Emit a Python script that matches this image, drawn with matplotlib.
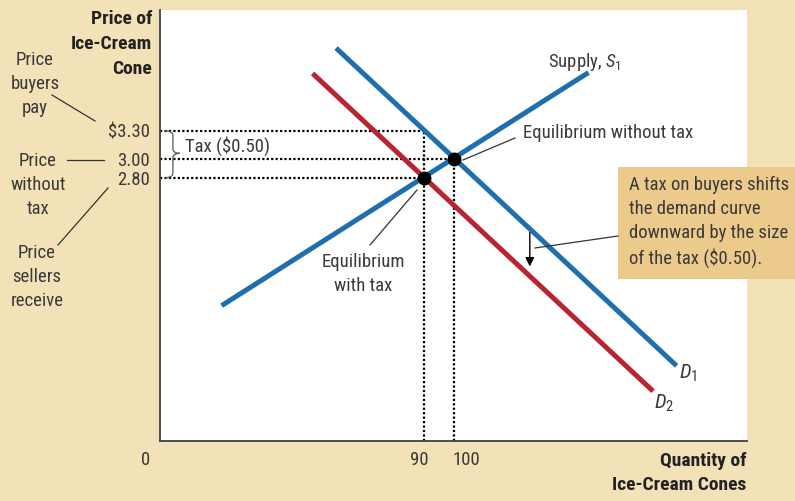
import numpy as np
import matplotlib.pyplot as plt
from matplotlib import font_manager as fm
from matplotlib.patches import Rectangle, PathPatch, FancyArrowPatch
from matplotlib.path import Path
from matplotlib.lines import Line2D

# pick a narrow sans if one is around, otherwise Roboto
installed = fm.fontManager.ttflist
names = {f.name for f in installed}
stretch = 'normal'
if 'Liberation Sans Narrow' in names:
    FONT, SCALE = 'Liberation Sans Narrow', 1.0
elif 'Roboto Condensed' in names:
    FONT, SCALE = 'Roboto Condensed', 1.0
elif any(f.name == 'DejaVu Sans' and 'condensed' in str(f.stretch) for f in installed):
    FONT, SCALE, stretch = 'DejaVu Sans', 0.92, 'condensed'
else:
    FONT, SCALE = 'Roboto', 0.9

plt.rcParams['font.family'] = [FONT, 'DejaVu Sans']
plt.rcParams['font.stretch'] = stretch
plt.rcParams['mathtext.fontset'] = 'custom'
plt.rcParams['mathtext.rm'] = FONT
plt.rcParams['mathtext.it'] = FONT + ':italic'

# curves: endpoints of each straight line (quantity, price)
supply_q = [21, 146]
supply_p = [1.44, 3.92]
d1_q = [60, 176]
d1_p = [4.18, 0.80]
d2_q = [52, 168]
d2_p = [3.91, 0.53]

# equilibria
eq_q = [100, 90]
eq_p = [3.00, 2.80]
price_buyers = 3.30
tax = 0.50

price_ticks = [2.80, 3.00, 3.30]
price_labels = ['2.80', '3.00', '$3.30']

BEIGE = '#f3e1b8'
BOX = '#ecca8c'
BLUE = '#1f6fae'
RED = '#b8242f'
TXT = '#3a3a3a'
FS = 13.5 * SCALE
FSB = 14 * SCALE

W, H = 795, 501
fig = plt.figure(figsize=(W / 100, H / 100), dpi=100, facecolor=BEIGE)


def px(x, y):
    return x / W, 1 - y / H


ax = fig.add_axes([160 / W, 60 / H, 587 / W, 431 / H])
ax.set_facecolor('white')
ax.set_xlim(0, 200)
ax.set_ylim(0, 4.585)
for s in ['top', 'right']:
    ax.spines[s].set_visible(False)
for s in ['left', 'bottom']:
    ax.spines[s].set_color('#404040')
    ax.spines[s].set_linewidth(1.3)

ax.set_xticks([])
ax.set_yticks(price_ticks)
ax.set_yticklabels(price_labels, fontsize=FS, color=TXT)
ax.tick_params(axis='y', length=0, pad=7)

# dotted guide lines
dot = dict(color='black', lw=1.6, ls=(0, (1, 1)), zorder=2)
ax.plot([0, eq_q[1]], [price_buyers, price_buyers], **dot)
ax.plot([0, eq_q[0]], [eq_p[0], eq_p[0]], **dot)
ax.plot([0, eq_q[1]], [eq_p[1], eq_p[1]], **dot)
ax.plot([eq_q[1], eq_q[1]], [0, price_buyers], **dot)
ax.plot([eq_q[0], eq_q[0]], [0, eq_p[0]], **dot)

# supply and demand curves
ax.plot(supply_q, supply_p, color=BLUE, lw=3.6, solid_capstyle='butt', zorder=3)
ax.plot(d1_q, d1_p, color=BLUE, lw=3.6, solid_capstyle='butt', zorder=3)
ax.plot(d2_q, d2_p, color=RED, lw=3.6, solid_capstyle='butt', zorder=3)
ax.plot(eq_q, eq_p, 'o', color='black', ms=9, zorder=5)

# brace for the tax wedge
y_top, y_bot = price_buyers, price_buyers - tax
y_mid = (y_top + y_bot) / 2 + 0.01
x0, x1, x2 = 1.6, 4.4, 6.8
verts = [(x0, y_top), (x1, y_top), (x1, y_top - 0.05),
         (x1, y_mid + 0.05), (x1, y_mid), (x2, y_mid),
         (x1, y_mid), (x1, y_mid - 0.05),
         (x1, y_bot + 0.05), (x1, y_bot), (x0, y_bot)]
codes = [Path.MOVETO, Path.CURVE3, Path.CURVE3,
         Path.LINETO, Path.CURVE3, Path.CURVE3,
         Path.CURVE3, Path.CURVE3,
         Path.LINETO, Path.CURVE3, Path.CURVE3]
ax.add_patch(PathPatch(Path(verts, codes), fc='none', ec='#555555', lw=0.9, zorder=4))
ax.text(8.5, y_mid + 0.08, 'Tax ($0.50)', fontsize=FS, color=TXT, va='center', ha='left')

# shift arrow, starting just under D1
q_arrow = 126
p_start = np.interp(q_arrow, d1_q, d1_p) - 0.04
ax.add_patch(FancyArrowPatch((q_arrow, p_start), (q_arrow, p_start - 0.36),
                             arrowstyle='-|>', color='black', lw=1.0,
                             mutation_scale=13, shrinkA=0, shrinkB=0, zorder=4))

# quantity tick labels
ax.annotate('0', xy=(0, 0), xytext=(-10, -19), textcoords='offset pixels',
            ha='right', va='center', fontsize=FS, color=TXT, annotation_clip=False)
ax.annotate('90', xy=(eq_q[1], 0), xytext=(4, -19), textcoords='offset pixels',
            ha='right', va='center', fontsize=FS, color=TXT, annotation_clip=False)
ax.annotate('100', xy=(eq_q[0], 0), xytext=(-1, -19), textcoords='offset pixels',
            ha='left', va='center', fontsize=FS, color=TXT, annotation_clip=False)

# axis titles
fig.text(*px(152, 44), 'Price of\nIce-Cream\nCone', ha='right', va='center',
         fontsize=FSB, fontweight='bold', color='#222222', linespacing=1.5)
fig.text(*px(746, 473), 'Quantity of\nIce-Cream Cones', ha='right', va='center',
         fontsize=FSB, fontweight='bold', color='#222222', linespacing=1.45)

# side labels
side = dict(ha='center', va='center', fontsize=FS, color=TXT, linespacing=1.45)
fig.text(*px(35, 84), 'Price\nbuyers\npay', **side)
fig.text(*px(38, 185), 'Price\nwithout\ntax', **side)
fig.text(*px(37, 277), 'Price\nsellers\nreceive', **side)

# curve labels and callouts
fig.text(*px(548, 62), 'Supply, $S_1$', ha='left', va='center', fontsize=FS, color=TXT)
fig.text(*px(679, 373), '$D_1$', ha='left', va='center', fontsize=FS + 1.5, color=TXT)
fig.text(*px(654, 403), '$D_2$', ha='left', va='center', fontsize=FS + 1.5, color=TXT)
fig.text(*px(523, 133), 'Equilibrium without tax', ha='left', va='center',
         fontsize=FS, color=TXT)
fig.text(*px(363, 274), 'Equilibrium\nwith tax', ha='center', va='center',
         fontsize=FS, color=TXT, linespacing=1.45)

fig.patches.append(Rectangle(px(618, 279), 177 / W, 112 / H, transform=fig.transFigure,
                             facecolor=BOX, edgecolor='none', zorder=0))
fig.text(*px(629, 222), 'A tax on buyers shifts\nthe demand curve\ndownward by the size\nof the tax ($0.50).',
         ha='left', va='center', fontsize=FS, color=TXT, linespacing=1.42)

# leader lines
leaders = [((52, 95), (95, 121)),
           ((67, 160), (104, 160)),
           ((58, 245), (108, 188)),
           ((463, 160), (515, 138)),
           ((417, 190), (370, 245)),
           ((535, 248), (618, 236))]
for (xa, ya), (xb, yb) in leaders:
    fig.lines.append(Line2D([xa / W, xb / W], [1 - ya / H, 1 - yb / H],
                            transform=fig.transFigure, color='#333333', lw=0.9))

fig.savefig('out.png', dpi=100, facecolor=BEIGE)
